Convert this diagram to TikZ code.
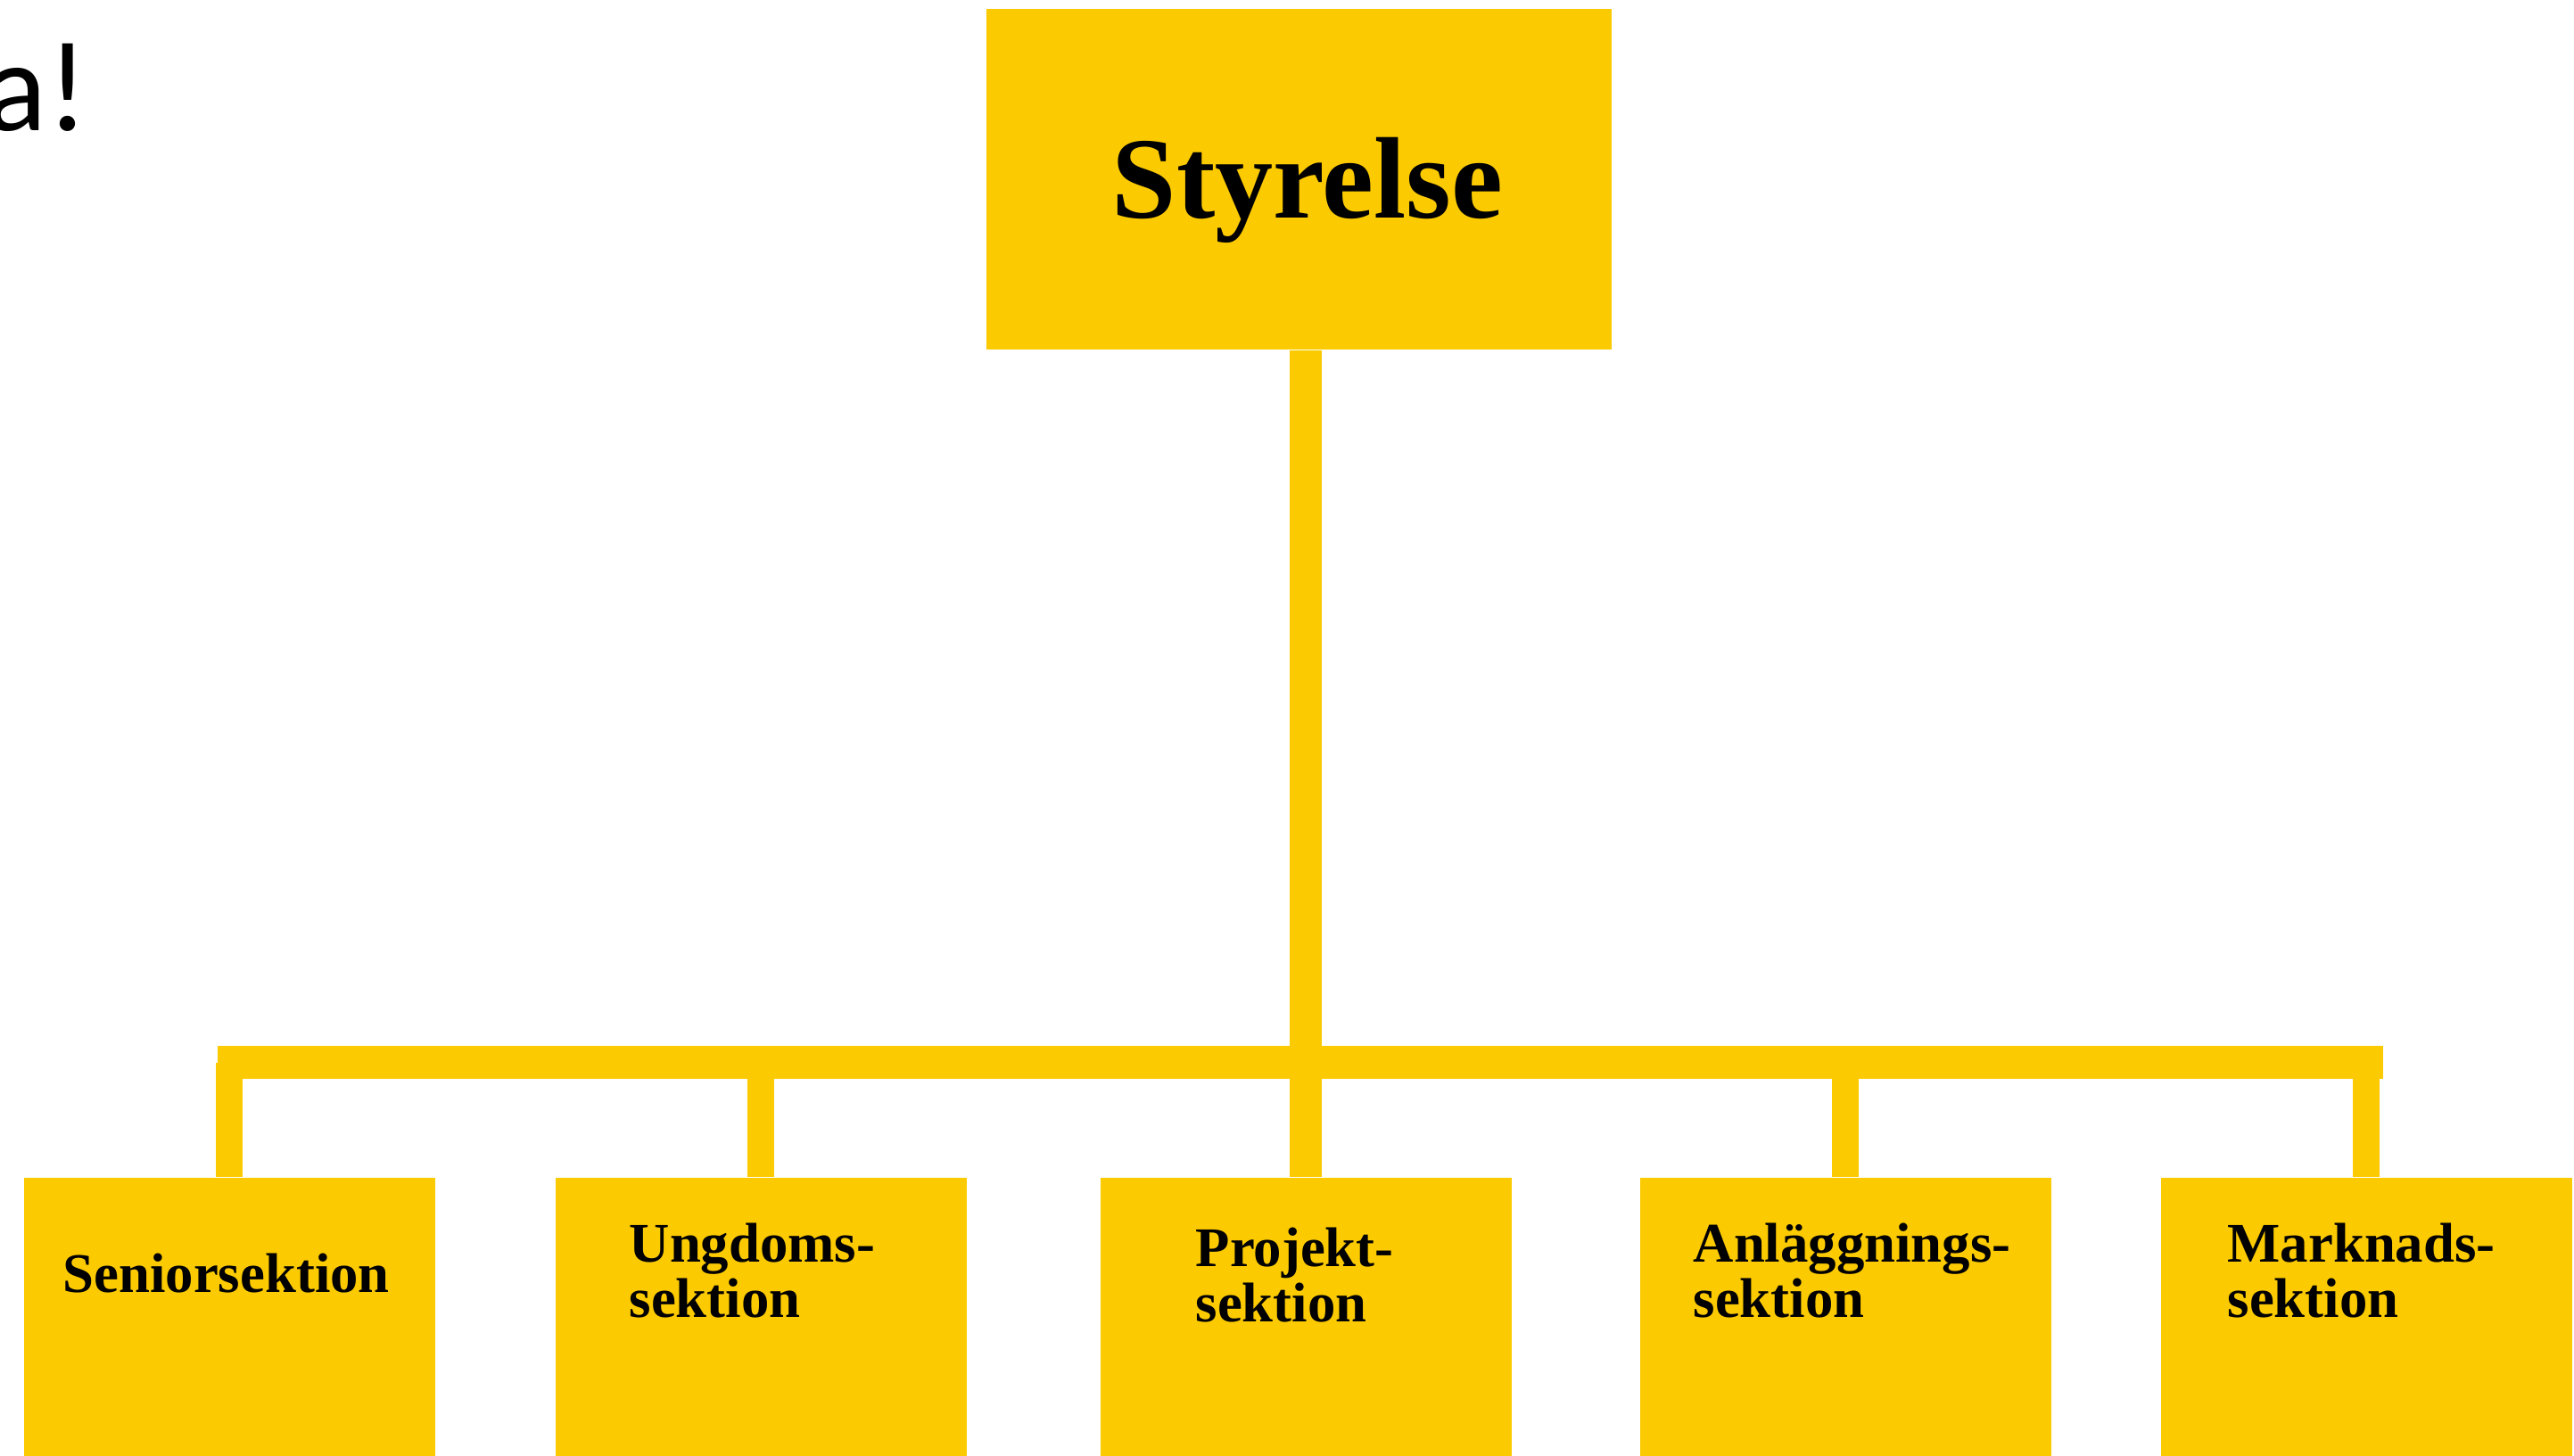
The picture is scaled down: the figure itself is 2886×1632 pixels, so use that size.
\documentclass[tikz,border=0pt]{standalone}
\usepackage{fontspec}
\setmainfont{Liberation Serif}
\newfontfamily\carlito{Carlito}
\definecolor{gold}{HTML}{FCCA00}
\begin{document}
\begin{tikzpicture}[x=0.01cm,y=-0.01cm,
  topbox/.style={fill=gold, draw=none, inner sep=0, minimum width=7.01cm, minimum height=3.82cm, anchor=north west},
  secbox/.style={fill=gold, draw=none, inner sep=0, minimum width=4.61cm, minimum height=3.3cm, anchor=north west},
  bigtext/.style={inner sep=0, anchor=base, font=\fontsize{37}{40}\selectfont\bfseries},
  sectext/.style={inner sep=0, anchor=base west, align=left, font=\fontsize{17.84}{17.36}\selectfont\bfseries},
  trunk/.style={draw=gold, line width=0.36cm},
  hbar/.style={draw=gold, line width=0.37cm},
  drop/.style={draw=gold, line width=0.30cm}
]
\useasboundingbox (0,0) rectangle (2886,1632);
\clip (0,0) rectangle (2886,1632);

% partial heading text at top left
\node[inner sep=0, anchor=base east, font=\carlito\fontsize{41}{45}\selectfont] (head) at (100,146) {a!};

% boxes
\node[topbox] (top) at (1105,9) {};
\node[secbox] (p1) at (26,1320) {};
\node[secbox] (p2) at (622,1320) {};
\node[secbox] (p3) at (1233,1320) {};
\node[secbox] (p4) at (1838,1320) {};
\node[secbox] (p5) at (2422,1320) {};

% connectors
\coordinate (bL) at (244,1191.5);
\coordinate (bR) at (2672,1191.5);
\draw[trunk] (top.south -| p3.north) -- (p3.north);
\draw[hbar] (bL) -- (bR);
\foreach \n in {p1,p2,p4,p5} \draw[drop] (\n.north) -- (\n.north |- bL);

% texts
\node[bigtext] (tS) at (1466,244) {Styrelse};
\node[sectext] (t1) at (70,1449) {Seniorsektion};
\node[sectext] (t2) at (705,1477) {Ungdoms-\\sektion};
\node[sectext] (t3) at (1340,1482) {Projekt-\\sektion};
\node[sectext] (t4) at (1898,1477) {Anläggnings-\\sektion};
\node[sectext] (t5) at (2497,1477) {Marknads-\\sektion};
\end{tikzpicture}
\end{document}
